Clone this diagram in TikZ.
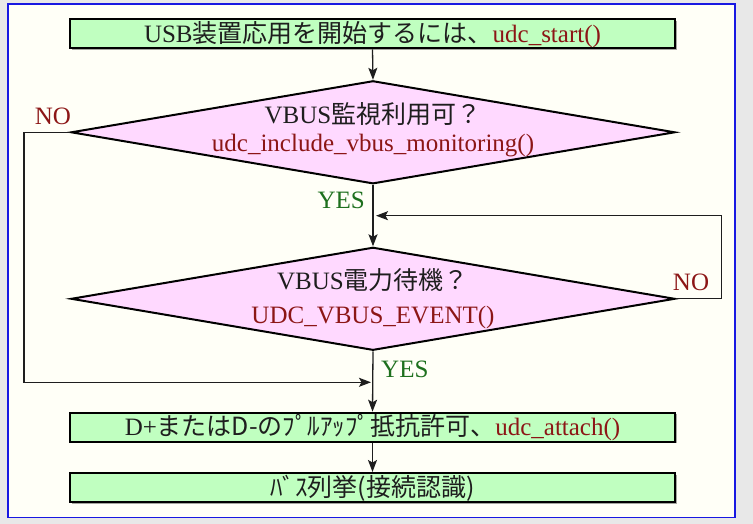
\documentclass[tikz,border=0pt]{standalone}
\usepackage{fontspec}
\setmainfont{Liberation Serif}
\newfontfamily\jp{Noto Sans CJK JP}
\usetikzlibrary{shapes.geometric,arrows.meta,shadows}
\definecolor{outerbg}{RGB}{232,232,232}
\definecolor{framebl}{RGB}{24,24,226}
\definecolor{innerbg}{RGB}{255,255,247}
\definecolor{boxgreen}{RGB}{192,255,192}
\definecolor{diapink}{RGB}{255,217,255}
\definecolor{fnred}{RGB}{140,22,22}
\definecolor{yesgreen}{RGB}{30,112,30}
\definecolor{txtblack}{RGB}{30,30,30}
\begin{document}
\begin{tikzpicture}[x=1pt,y=-1pt,
  font=\fontsize{25}{28}\selectfont,
  procbox/.style={draw=black, line width=2pt, fill=boxgreen, minimum width=605pt,
    minimum height=29pt, inner sep=0pt, text height=20pt, text depth=3pt, text=txtblack,
    drop shadow={shadow xshift=1.5pt, shadow yshift=-1.5pt, fill=black, opacity=0.35}},
  decision/.style={diamond, draw=black, line width=2pt, fill=diapink, minimum width=604pt,
    minimum height=103pt, inner sep=0pt},
  lbl/.style={anchor=base, inner sep=0pt, text=txtblack},
  fn/.style={text=fnred},
  conn/.style={line width=1.3pt, draw=txtblack},
  arr/.style={conn, -{Stealth[length=12pt,width=9pt,inset=2.5pt]}}]
% background and frame
\fill[outerbg] (0,0) rectangle (753,524);
\draw[framebl, line width=1.6pt, fill=innerbg] (8,4) rectangle (735,517.5);
% boxes
\node[procbox] (start) at (372.5,33.8) {USB{\jp 装置応用を開始するには、}\textcolor{fnred}{udc\_start()}};
\node[decision] (d1) at (373,132.3) {};
\node[lbl] (d1a) at (373,124) {VBUS{\jp 監視利用可？}};
\node[lbl,fn] (d1b) at (373,152) {udc\_include\_vbus\_monitoring()};
\node[decision] (d2) at (373,298.8) {};
\node[lbl] (d2a) at (373,289) {VBUS{\jp 電力待機？}};
\node[lbl,fn] (d2b) at (373,323) {UDC\_VBUS\_EVENT()};
\node[procbox] (attach) at (372.5,427.2) {D+{\jp またはD-のﾌﾟﾙｱｯﾌﾟ抵抗許可、}\textcolor{fnred}{udc\_attach()}};
\node[procbox] (enum) at (372.5,487.5) {{\jp ﾊﾞｽ列挙(接続認識)}};
% junction coordinates
\coordinate (jl) at (24,382.3);
\coordinate (jr) at (721.5,215.7);
\path (d2.south |- jl) ++(-2,0) coordinate (jlend);
\path (d1.south |- jr) ++(3,0) coordinate (jrend);
% connectors
\draw[arr] (start.south) -- (d1.north);
\draw[arr] (d1.south) -- (d2.north);
\draw[arr] (d2.east) -| (jr) -- (jrend);
\draw[arr] (d1.west) -| (jl) -- (jlend);
\draw[arr] (d2.south) -- (attach.north);
\draw[arr] (attach.south) -- (enum.north);
% labels
\node[lbl,fn] (no1) at (53,125) {NO};
\node[lbl,text=yesgreen,anchor=base east] (yes1) at (365,209) {YES};
\node[lbl,fn] (no2) at (691,290.7) {NO};
\node[lbl,text=yesgreen,anchor=base west] (yes2) at (381,377) {YES};
\end{tikzpicture}
\end{document}
